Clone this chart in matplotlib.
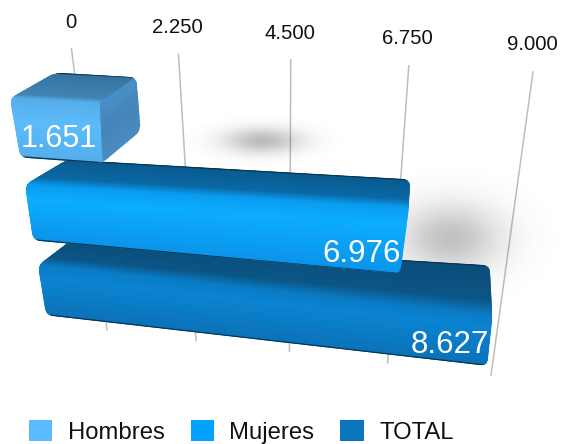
import numpy as np
import matplotlib
matplotlib.use("Agg")
import matplotlib.pyplot as plt
from matplotlib.colors import LinearSegmentedColormap
from matplotlib.patches import Patch, PathPatch
from matplotlib.path import Path

plt.rcParams["font.family"] = ["Liberation Sans", "DejaVu Sans"]

# ── DATA ──────────────────────────────────────────────────────────────────────
categories = ["Hombres", "Mujeres", "TOTAL"]
values = [1651, 6976, 8627]
value_labels = ["1.651", "6.976", "8.627"]
axis_ticks = [0, 2250, 4500, 6750, 9000]
tick_labels = ["0", "2.250", "4.500", "6.750", "9.000"]
legend_colors = ["#5abcff", "#00a2ff", "#0776bd"]

# ── PERSPECTIVE GEOMETRY (pixels) ─────────────────────────────────────────────
AXIS_MAX = 9000
PERSP = 0.905
GRID_TOP = ((71.5, 49), (533, 72))
GRID_BOTTOM = ((107, 330), (491, 375))
LABEL_Y = [23, 27.5, 33.5, 38.5, 45]

# for each bar: left end of each long edge, and its run over the full axis
GEOM = {
    "Hombres": dict(back=((55, 73), (480, 24)), top=((10, 98), (534, 30)),
                    low=((20, 157), (492, 36)), side=(141, 130), text=(-6, -24),
                    size=22),
    "Mujeres": dict(back=((66, 160), (454, 26)), top=((25, 185), (507, 30)),
                    low=((33, 240), (485, 45)), side=None, text=(0, -20),
                    size=22.5),
    "TOTAL": dict(back=((72, 240), (438, 27)), top=((38, 265), (476, 53)),
                  low=((46, 315), (462, 53)), side=None, text=(2, -21),
                  size=22.5),
}

# shading across the section: 0 back edge, 1 front-top edge, 2 bottom edge
SHADES = {
    "Hombres": [(0, "#35729e"), (0.85, "#4285b5"), (1.0, "#55aeea"),
                (1.4, "#5cbcfb"), (2, "#54aeeb")],
    "Mujeres": [(0, "#0a5a8e"), (0.7, "#0a69a5"), (1.0, "#0a9cf0"),
                (1.25, "#0caeff"), (2, "#0b94ea")],
    "TOTAL": [(0, "#0b4d7a"), (0.7, "#0b5686"), (1.0, "#0a7cc6"),
              (1.25, "#0b84d2"), (2, "#0b72b8")],
}
EDGE = "#063555"


def scale(v):
    u = np.asarray(v, dtype=float) / AXIS_MAX
    return PERSP * u / (1 - (1 - PERSP) * u)


def edge_point(line, v):
    (x0, y0), (dx, dy) = line
    t = scale(v)
    return x0 + dx * t, y0 + dy * t


def rounded(points, r):
    """Closed path through points with the corners rounded off."""
    pts = np.array(points, dtype=float)
    n = len(pts)
    verts, codes = [], []
    for i in range(n):
        p, a, b = pts[i], pts[i - 1], pts[(i + 1) % n]
        ra = min(r, np.linalg.norm(a - p) / 2)
        rb = min(r, np.linalg.norm(b - p) / 2)
        start = p + (a - p) / np.linalg.norm(a - p) * ra
        end = p + (b - p) / np.linalg.norm(b - p) * rb
        verts += [start, p, end]
        codes += [Path.MOVETO if i == 0 else Path.LINETO, Path.CURVE3, Path.CURVE3]
    verts.append(verts[0])
    codes.append(Path.CLOSEPOLY)
    return Path(verts, codes)


def draw_blob(ax, cx, cy, sx, sy, strength, angle=0.0):
    x, y = np.meshgrid(np.arange(0, 561), np.arange(0, 444))
    ca, sa = np.cos(angle), np.sin(angle)
    xr = (x - cx) * ca + (y - cy) * sa
    yr = -(x - cx) * sa + (y - cy) * ca
    img = np.zeros(x.shape + (4,))
    img[..., :3] = 0.25
    img[..., 3] = strength * np.exp(-0.5 * ((xr / sx) ** 2 + (yr / sy) ** 2))
    ax.imshow(img, extent=(0, 561, 444, 0), zorder=2, aspect="auto")


def draw_bar(ax, name, value, label, z):
    g = GEOM[name]
    b_l, b_r = edge_point(g["back"], 0), edge_point(g["back"], value)
    t_l, t_r = edge_point(g["top"], 0), edge_point(g["top"], value)
    l_l, l_r = edge_point(g["low"], 0), edge_point(g["low"], value)

    if g["side"] is not None:
        outline = [b_l, b_r, g["side"], l_r, l_l, t_l]
    else:
        outline = [b_l, b_r, t_r, l_r, l_l, t_l]
    clip = PathPatch(rounded(outline, 7), facecolor="none", edgecolor="none",
                     transform=ax.transData, zorder=z)
    ax.add_patch(clip)

    # sweep the section along the bar
    s = np.linspace(0, 2, 60)
    left = np.array([np.interp(s, [0, 1, 2], [b_l[i], t_l[i], l_l[i]]) for i in (0, 1)])
    right = np.array([np.interp(s, [0, 1, 2], [b_r[i], t_r[i], l_r[i]]) for i in (0, 1)])
    X = np.column_stack([left[0], right[0]])
    Y = np.column_stack([left[1], right[1]])
    C = np.column_stack([s, s]) / 2
    stops = [(p / 2, c) for p, c in SHADES[name]]
    cmap = LinearSegmentedColormap.from_list(name, stops)
    mesh = ax.pcolormesh(X, Y, C, cmap=cmap, vmin=0, vmax=1, shading="gouraud", zorder=z)
    mesh.set_clip_path(clip)

    # end face, seen only on the short bar
    if g["side"] is not None:
        q = np.linspace(0, 1, 12)
        sx = np.column_stack([np.interp(q, [0, 1], [t_r[0], l_r[0]]),
                              np.interp(q, [0, 1], [b_r[0], g["side"][0]])])
        sy = np.column_stack([np.interp(q, [0, 1], [t_r[1], l_r[1]]),
                              np.interp(q, [0, 1], [b_r[1], g["side"][1]])])
        side = ax.pcolormesh(sx, sy, np.column_stack([q, q]), shading="gouraud",
                             cmap=LinearSegmentedColormap.from_list(
                                 "side", ["#4a90c8", "#4484b8", "#4a8ec4"]),
                             vmin=0, vmax=1, zorder=z + 0.1)
        side.set_clip_path(clip)

    # dark rims along back and bottom
    for p, q2, w in [(b_l, b_r, 1.2), (l_l, l_r, 1.4)]:
        rim, = ax.plot([p[0], q2[0]], [p[1], q2[1]], color=EDGE, lw=w, zorder=z + 0.2)
        rim.set_clip_path(clip)

    dx, dy = g["text"]
    tx, ty = l_r[0] + dx, l_r[1] + dy
    ax.text(tx, ty, label, color="white", fontsize=g["size"], ha="right",
            va="center", zorder=z + 0.3)


# ── FIGURE ────────────────────────────────────────────────────────────────────
fig = plt.figure(figsize=(5.61, 4.44), dpi=100, facecolor="white")
ax = fig.add_axes([0, 0, 1, 1])

for tick, lab, ly in zip(axis_ticks, tick_labels, LABEL_Y):
    t = scale(tick)
    x0 = GRID_TOP[0][0] + (GRID_TOP[1][0] - GRID_TOP[0][0]) * t
    y0 = GRID_TOP[0][1] + (GRID_TOP[1][1] - GRID_TOP[0][1]) * t
    x1 = GRID_BOTTOM[0][0] + (GRID_BOTTOM[1][0] - GRID_BOTTOM[0][0]) * t
    y1 = GRID_BOTTOM[0][1] + (GRID_BOTTOM[1][1] - GRID_BOTTOM[0][1]) * t
    ax.plot([x0, x1], [y0, y1], color="#bdbdbd", lw=1.1, zorder=1)
    ax.text(x0 - 1, ly, lab, color="#111111", fontsize=14.7, ha="center", va="center")

# soft shadows on the floor
draw_blob(ax, 262, 141, 27, 9, 0.35)
draw_blob(ax, 450, 238, 36, 24, 0.32)

# back to front: TOTAL sits behind Mujeres, Mujeres behind Hombres
for i in [2, 1, 0]:
    draw_bar(ax, categories[i], values[i], value_labels[i], 5 + (2 - i))

handles = [Patch(facecolor=c, edgecolor="none") for c in legend_colors]
ax.legend(handles, categories, loc="lower left", bbox_to_anchor=(29, 444),
          bbox_transform=ax.transData, ncol=3, frameon=False, fontsize=17.2,
          borderpad=0, borderaxespad=0, handlelength=0.98, handleheight=0.96,
          handletextpad=0.64, columnspacing=1.09, labelcolor="#111111")

ax.set_xlim(0, 561)
ax.set_ylim(444, 0)
ax.axis("off")

fig.savefig("out.png", dpi=100)
